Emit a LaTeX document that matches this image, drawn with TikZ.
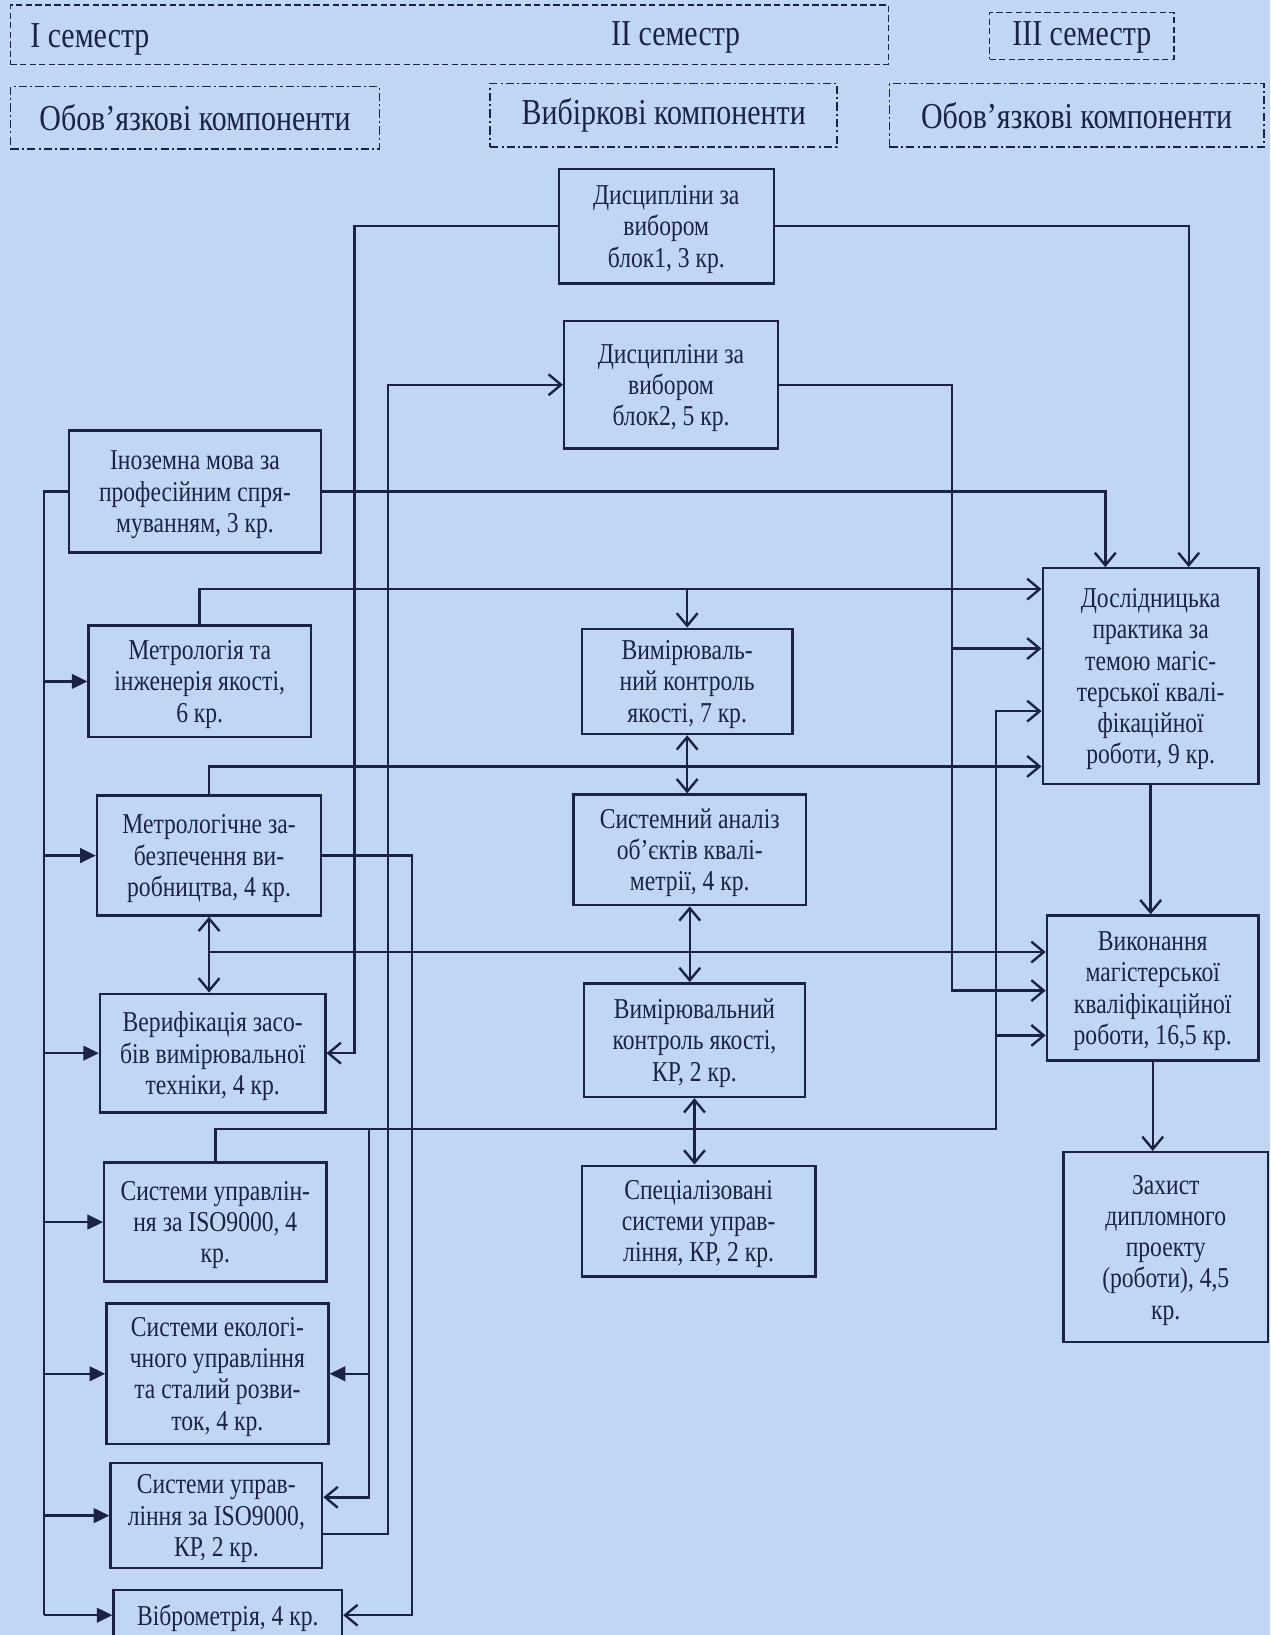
\documentclass[tikz,border=0pt]{standalone}
\usepackage{fontspec}
\setmainfont{Liberation Serif}[FakeStretch=0.82]
\usetikzlibrary{arrows.meta,calc}
\definecolor{paper}{RGB}{193,214,244}
\definecolor{ink}{RGB}{26,34,70}
\begin{document}
\begin{tikzpicture}[x=0.5pt,y=-0.5pt, line width=1.15pt, color=ink,
  frame/.style 2 args={rectangle, draw=ink, minimum width=#1*0.5pt, minimum height=#2*0.5pt, inner sep=0pt, align=center},
  box/.style 2 args={frame={#1}{#2}, line width=1.15pt, font=\fontsize{13.8}{15}\selectfont, text depth=0pt},
  hdash/.style={line width=0.8pt, dash pattern=on 3pt off 1.6pt},
  hdot/.style={line width=0.8pt, dash pattern=on 4pt off 1.5pt on 1pt off 1.5pt},
  htext/.style={font=\fontsize{17.5}{20}\selectfont, inner sep=0pt},
  arr/.style={-{Straight Barb[length=6pt,width=10pt]}},
  darr/.style={{Straight Barb[length=6pt,width=10pt]}-{Straight Barb[length=6pt,width=10pt]}},
  farr/.style={-{Triangle[length=7.5pt,width=7pt]}}]
\useasboundingbox (0,0) rectangle (1218,1568);
\clip (0,0) rectangle (1218,1568);
\fill[paper] (0,0) rectangle (1218,1568);

% header frames
\node[frame={842}{57}, hdash] (sem12) at (431,33.5) {};
\node[htext, anchor=west] (s1) at (28,38) {I семестр};
\node[htext] (s2) at (648,36) {II семестр};
\node[frame={177}{45}, hdash] (sem3) at (1037.5,34.5) {};
\node[htext] (s3) at (1037.5,36) {III семестр};
\node[frame={354}{60}, hdot, htext] (ob1) at (187,113) {Обов’язкові компоненти};
\node[frame={333}{61}, hdot, htext] (vyb) at (636.5,110.5) {Вибіркові компоненти};
\node[frame={359}{61}, hdot, htext] (ob2) at (1032.5,110.5) {Обов’язкові компоненти};

% boxes
\node[box={206}{110}] (A) at (639,217) {Дисципліни за\\вибором\\блок1, 3 кр.};
\node[box={205}{122}] (B) at (643.5,369) {Дисципліни за\\вибором\\блок2, 5 кр.};
\node[box={242}{117}] (C) at (187,471.5) {Іноземна мова за\\професійним спря-\\муванням, 3 кр.};
\node[box={213}{107}] (D) at (191.5,653.5) {Метрологія та\\інженерія якості,\\6 кр.};
\node[box={215}{115}] (E) at (200.5,820.5) {Метрологічне за-\\безпечення ви-\\робництва, 4 кр.};
\node[box={216}{114}] (F) at (204,1010) {Верифікація засо-\\бів вимірювальної\\техніки, 4 кр.};
\node[box={213}{114}] (G) at (206.5,1172) {Системи управлін-\\ня за ISO9000, 4\\кр.};
\node[box={213}{135}] (H) at (208.5,1317.5) {Системи екологі-\\чного управління\\та сталий розви-\\ток, 4 кр.};
\node[box={203}{101}] (I) at (207.5,1453.5) {Системи управ-\\ління за ISO9000,\\КР, 2 кр.};
\node[box={219}{48}] (J) at (218.5,1549) {Віброметрія, 4 кр.};
\node[box={202}{101}] (K) at (659,653.5) {Вимірюваль-\\ний контроль\\якості, 7 кр.};
\node[box={223}{106}] (L) at (661.5,815) {Системний аналіз\\об’єктів квалі-\\метрії, 4 кр.};
\node[box={212}{109}] (M) at (666,997.5) {Вимірювальний\\контроль якості,\\КР, 2 кр.};
\node[box={224}{106}] (N) at (670,1171) {Спеціалізовані\\системи управ-\\ління, КР, 2 кр.};
\node[box={207}{207}] (O) at (1103.5,648.5) {Дослідницька\\практика за\\темою магіс-\\терської квалі-\\фікаційної\\роботи, 9 кр.};
\node[box={203}{139}] (P) at (1105.5,947.5) {Виконання\\магістерської\\кваліфікаційної\\роботи, 16,5 кр.};
\node[box={196}{182}] (Q) at (1118,1196) {Захист\\дипломного\\проекту\\(роботи), 4,5\\кр.};

% reference levels and rails
\coordinate (bus) at (42,0);
\coordinate (vA) at (340,0);
\coordinate (vG) at (354,0);
\coordinate (vB) at (372,0);
\coordinate (vJ) at (395,0);
\coordinate (vBP) at (913,0);
\coordinate (vGO) at (955,0);
\coordinate (vCO) at (1060,0);
\coordinate (vAO) at (1140,0);
\coordinate (yD) at (0,565);
\coordinate (yO2) at (0,622);
\coordinate (yO3) at (0,682);
\coordinate (yE) at (0,735);
\coordinate (yEF) at (0,913);
\coordinate (yP2) at (0,950);
\coordinate (yP3) at (0,993);
\coordinate (yG) at (0,1083);
\coordinate (Iin) at ($(I.south east)!0.67!(I.north east)$);
\coordinate (Iout) at ($(I.south east)!0.33!(I.north east)$);

% left bus from C
\draw (C.west) -| (bus |- J.west);
\foreach \n in {D,E,F,G,H,I,J} \draw[farr] (bus |- \n.west) -- (\n.west);

% C -> O
\draw[arr] (C.east) -| (vCO |- O.north);
% A -> F and A -> O
\draw[arr] (A.west) -| (vA |- F.east) -- (F.east);
\draw[arr] (A.east) -| (vAO |- O.north);
% I -> B
\draw[arr] (Iout) -| (vB |- B.west) -- (B.west);
% E -> J
\draw[arr] (E.east) -| (vJ |- J.east) -- (J.east);
% D -> O, K
\draw[arr] (D.north) |- (O.west |- yD);
\draw[arr] (K.north |- yD) -- (K.north);
% E -> O
\draw[arr] (E.north) |- (O.west |- yE);
% E <-> F, line to P
\draw[darr] (E.south) -- (E.south |- F.north);
\draw[arr] (E.south |- yEF) -- (P.west |- yEF);
% middle chain
\draw[darr] (K.south) -- (K.south |- L.north);
\draw[darr] (L.south) -- (L.south |- M.north);
\draw[darr] (M.south) -- (M.south |- N.north);
% B -> O, P
\draw[arr] (B.east) -| (vBP |- yP2) -- (P.west |- yP2);
\draw[arr] (vBP |- yO2) -- (O.west |- yO2);
% G -> O, P, H, I
\draw[arr] (G.north) |- (vGO |- yG) -- (vGO |- yO3) -- (O.west |- yO3);
\draw[arr] (vGO |- yP3) -- (P.west |- yP3);
\draw[arr] (vG |- yG) |- (Iin);
\draw[farr] (vG |- H.east) -- (H.east);
% right column
\draw[arr] (O.south) -- (O.south |- P.north);
\draw[arr] (P.south) -- (P.south |- Q.north);
\end{tikzpicture}
\end{document}
